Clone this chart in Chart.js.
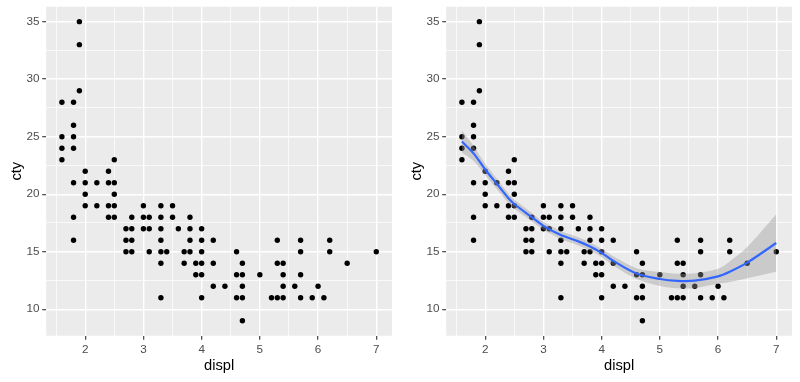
<!DOCTYPE html>
<html><head><meta charset="utf-8">
<script src="https://cdn.jsdelivr.net/npm/chart.js@4"></script>
<style>
html,body{margin:0;padding:0;background:#fff;}
#wrap{position:relative;width:800px;height:382px;overflow:hidden;}
canvas{position:absolute;top:0;}
#c1{left:0}
#c2{left:400px}
</style></head><body>
<div id="wrap"><canvas id="c1" width="400" height="382"></canvas><canvas id="c2" width="400" height="382"></canvas></div>
<script>
// scatter data (displ, cty)
const displ = [
  1.9, 1.9, 1.9,
  1.6, 1.8,
  1.8,
  1.6, 1.8,
  1.6, 1.8,
  1.6, 2.5,
  2.0, 2.4,
  1.8, 2.0, 2.2, 2.4, 2.5,
  2.0, 2.5,
  2.0, 2.2, 2.4, 2.5, 3.0, 3.3, 3.5,
  1.8, 2.4, 2.5, 2.8, 3.0, 3.1, 3.3, 3.5, 3.8,
  2.7, 2.8, 3.0, 3.1, 3.3, 3.6, 3.8, 4.0,
  1.8, 2.7, 2.8, 3.3, 3.8, 4.0, 4.2, 5.3, 5.7, 6.2,
  2.7, 2.8, 3.1, 3.3, 3.4, 3.7, 3.8, 4.0, 4.6, 5.7, 6.2, 7.0,
  3.3, 3.7, 3.9, 4.0, 4.2, 4.7, 5.3, 5.4, 6.5,
  3.9, 4.0, 4.6, 4.7, 5.0, 5.4, 5.7,
  4.2, 4.4, 4.7, 5.4, 5.6, 6.0,
  3.3, 4.0, 4.6, 4.7, 5.2, 5.3, 5.4, 5.7, 5.9, 6.1,
  4.7
];
const cty = [
  35, 33, 29,
  28, 28,
  26,
  25, 25,
  24, 24,
  23, 23,
  22, 22,
  21, 21, 21, 21, 21,
  20, 20,
  19, 19, 19, 19, 19, 19, 19,
  18, 18, 18, 18, 18, 18, 18, 18, 18,
  17, 17, 17, 17, 17, 17, 17, 17,
  16, 16, 16, 16, 16, 16, 16, 16, 16, 16,
  15, 15, 15, 15, 15, 15, 15, 15, 15, 15, 15, 15,
  14, 14, 14, 14, 14, 14, 14, 14, 14,
  13, 13, 13, 13, 13, 13, 13,
  12, 12, 12, 12, 12, 12,
  11, 11, 11, 11, 11, 11, 11, 11, 11, 11,
  9
];

// loess smooth and its confidence band
const smoothX    = [1.6, 1.8, 2.0, 2.2, 2.4, 2.5, 2.8, 3.0, 3.3, 3.6, 3.8, 4.0, 4.2, 4.6, 5.0, 5.3, 5.6, 6.0, 6.2, 6.5, 7.0];
const smoothY    = [24.58, 23.55, 22.15, 20.9, 19.65, 19.15, 18.0, 17.25, 16.45, 15.9, 15.45, 14.9, 14.2, 13.1, 12.63, 12.46, 12.48, 12.86, 13.26, 14.05, 15.76];
const smoothHigh = [25.53, 24.2, 22.65, 21.35, 20.07, 19.55, 18.37, 17.6, 16.8, 16.25, 15.8, 15.26, 14.6, 13.57, 13.23, 13.09, 13.13, 13.51, 14.16, 15.41, 18.26];
const smoothLow  = [23.63, 22.9, 21.65, 20.45, 19.23, 18.75, 17.63, 16.9, 16.1, 15.55, 15.1, 14.54, 13.8, 12.63, 12.03, 11.83, 11.83, 12.21, 12.36, 12.69, 13.26];

// axes
const xMajorTicks = [2, 3, 4, 5, 6, 7];
const xMinorTicks = [1.5, 2.5, 3.5, 4.5, 5.5, 6.5];
const yMajorTicks = [10, 15, 20, 25, 30, 35];
const yMinorTicks = [12.5, 17.5, 22.5, 27.5, 32.5];
const xTitle = 'displ';
const yTitle = 'cty';
const X_MIN = 1.33, X_MAX = 7.27, Y_MIN = 7.7, Y_MAX = 36.3;

const FONT = "'Liberation Sans', Arial, sans-serif";

function axis(min, max, major, minor, title, isX) {
  const all = [...minor, ...major].sort((a, b) => a - b);
  const isMaj = v => major.some(m => Math.abs(m - v) < 1e-9);
  return {
    type: 'linear', position: isX ? 'bottom' : 'left', min, max,
    afterBuildTicks: s => { s.ticks = all.map(v => ({ value: v })); },
    afterFit: s => {
      if (isX) s.height = 46.3; else s.width = 46.2;
      s.paddingLeft = 0; s.paddingRight = 0; s.paddingTop = 0; s.paddingBottom = 0;
    },
    border: { display: false },
    grid: {
      color: '#FFFFFF',
      lineWidth: c => (c.tick && isMaj(c.tick.value)) ? 1.4 : 0.7,
      drawTicks: true,
      tickLength: 4,
      tickColor: c => (c.tick && isMaj(c.tick.value)) ? '#333333' : 'rgba(0,0,0,0)',
      tickWidth: 1.1
    },
    ticks: {
      autoSkip: false, maxRotation: 0, minRotation: 0,
      padding: isX ? 3.3 : 2.6,
      color: '#4D4D4D',
      font: { family: FONT, size: 11.7 },
      callback: v => isMaj(v) ? String(v) : ''
    },
    title: {
      display: true, text: title, color: '#000000',
      font: { family: FONT, size: 14.7 },
      padding: isX ? { top: 0, bottom: 7.2 } : { top: 8, bottom: 0 }
    }
  };
}

const panelBg = {
  id: 'panelBg',
  beforeDraw(chart) {
    const { ctx, chartArea: a } = chart;
    ctx.save();
    ctx.fillStyle = '#FFFFFF';
    ctx.fillRect(0, 0, chart.width, chart.height);
    ctx.fillStyle = '#EBEBEB';
    ctx.fillRect(a.left, a.top, a.right - a.left, a.bottom - a.top);
    ctx.restore();
  }
};

function pointsDataset() {
  return {
    data: displ.map((d, i) => ({ x: d, y: cty[i] })),
    showLine: false,
    pointRadius: 2.7, pointHoverRadius: 2.7,
    pointBackgroundColor: '#000000', pointBorderWidth: 0,
    pointBorderColor: 'rgba(0,0,0,0)',
    order: 4
  };
}

function makeChart(id, withSmooth) {
  const datasets = [pointsDataset()];
  if (withSmooth) {
    datasets.push({
      data: smoothX.map((x, i) => ({ x, y: smoothHigh[i] })),
      borderColor: 'rgba(0,0,0,0)', borderWidth: 0, pointRadius: 0,
      tension: 0.3, fill: false, order: 3
    });
    datasets.push({
      data: smoothX.map((x, i) => ({ x, y: smoothLow[i] })),
      borderColor: 'rgba(0,0,0,0)', borderWidth: 0, pointRadius: 0,
      tension: 0.3, fill: '-1',
      backgroundColor: 'rgba(153,153,153,0.4)', order: 2
    });
    datasets.push({
      data: smoothX.map((x, i) => ({ x, y: smoothY[i] })),
      borderColor: '#3366FF', borderWidth: 2.2, pointRadius: 0,
      tension: 0.3, fill: false, order: 1
    });
  }
  return new Chart(document.getElementById(id), {
    type: 'line',
    data: { datasets },
    options: {
      responsive: false, animation: false, devicePixelRatio: 1,
      layout: { padding: { left: 0, right: 8, top: 6.7, bottom: 0 } },
      plugins: { legend: { display: false }, tooltip: { enabled: false } },
      scales: {
        x: axis(X_MIN, X_MAX, xMajorTicks, xMinorTicks, xTitle, true),
        y: axis(Y_MIN, Y_MAX, yMajorTicks, yMinorTicks, yTitle, false)
      }
    },
    plugins: [panelBg]
  });
}

makeChart('c1', false);
makeChart('c2', true);
</script>
</body></html>
